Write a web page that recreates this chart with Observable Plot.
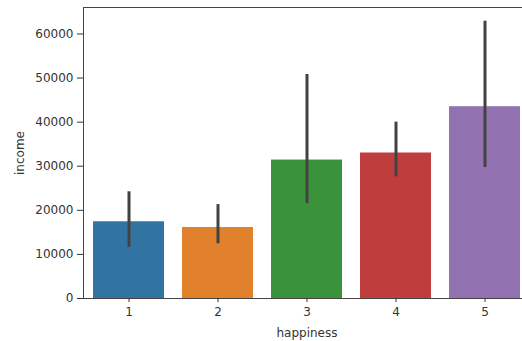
<!DOCTYPE html>
<html>
<head>
<meta charset="utf-8">
<script src="https://cdn.jsdelivr.net/npm/d3@7"></script>
<script src="https://cdn.jsdelivr.net/npm/@observablehq/plot@0.6"></script>
<style>
  html, body { margin: 0; padding: 0; background: white; overflow: hidden; width: 522px; height: 341px; }
</style>
</head>
<body>
<div id="chart"></div>
<script>
const happiness = ["1", "2", "3", "4", "5"];
const income = [17400, 16100, 31400, 33000, 43500];
const ciLow = [11600, 12400, 21500, 27600, 29700];
const ciHigh = [24200, 21300, 50800, 40000, 62900];
const barColors = ["#3274a1", "#e1812c", "#3a923a", "#c03d3e", "#9372b2"];
const yTicks = [0, 10000, 20000, 30000, 40000, 50000, 60000];

const data = happiness.map((h, i) => ({h, income: income[i], lo: ciLow[i], hi: ciHigh[i]}));

const chart = Plot.plot({
  width: 530,
  height: 341,
  marginLeft: 83,
  marginRight: 0,
  marginTop: 7,
  marginBottom: 43,
  style: "max-width:none; font-family:'DejaVu Sans'; font-size:12px; color:#333333; background:white;",
  x: {type: "band", domain: happiness, paddingInner: 0.2, paddingOuter: 0.1},
  y: {domain: [0, 66000]},
  color: {type: "ordinal", domain: happiness, range: barColors},
  marks: [
    Plot.barY(data, {x: "h", y: "income", fill: "h"}),
    Plot.ruleX(data, {x: "h", y1: "lo", y2: "hi", stroke: "#424242", strokeWidth: 3}),
    Plot.frame({stroke: "#444444", strokeWidth: 1}),
    Plot.axisY({ticks: yTicks, tickFormat: d => String(d), tickSize: 6, tickPadding: 4,
      label: "income", labelAnchor: "center", labelArrow: "none", labelOffset: 68, fontSize: 12}),
    Plot.axisX({tickSize: 4, tickPadding: 5, label: "happiness", labelAnchor: "center",
      labelArrow: "none", labelOffset: 38, fontSize: 12})
  ]
});
document.getElementById("chart").appendChild(chart);
</script>
</body>
</html>
